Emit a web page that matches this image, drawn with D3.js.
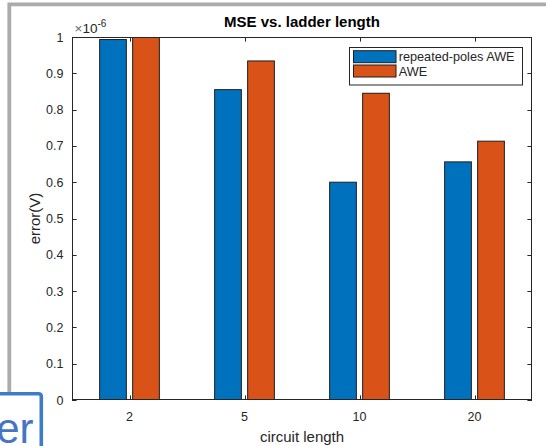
<!DOCTYPE html>
<html>
<head>
<meta charset="utf-8">
<script src="https://cdn.jsdelivr.net/npm/d3@7"></script>
<style>
  html, body { margin: 0; padding: 0; background: #fff; }
  svg { display: block; }
  text { font-family: "Liberation Sans", Arial, Helvetica, sans-serif; }
</style>
</head>
<body>
<svg id="chart" width="546" height="446"></svg>
<script>
// ---- data ----
const categories = ["2", "5", "10", "20"];
const seriesNames = ["repeated-poles AWE", "AWE"];
const repeatedPolesAWE = [0.993e-6, 0.855e-6, 0.600e-6, 0.656e-6];
const AWE = [1.0e-6, 0.934e-6, 0.845e-6, 0.713e-6];
const yTickValues = [0, 0.1, 0.2, 0.3, 0.4, 0.5, 0.6, 0.7, 0.8, 0.9, 1.0];
const yTickLabels = ["0", "0.1", "0.2", "0.3", "0.4", "0.5", "0.6", "0.7", "0.8", "0.9", "1"];
const yExponent = "-6";
const titleText = "MSE vs. ladder length";
const xLabelText = "circuit length";
const yLabelText = "error(V)";

// ---- layout ----
const W = 546, H = 446;
const plot = { left: 72, right: 532, top: 37, bottom: 400 };
const colors = ["#0072BD", "#D95319"];
const ink = "#262626";
const svg = d3.select("#chart");

// gray frame (screenshot border) at top/left
svg.append("path")
  .attr("d", "M9.3,393 L9.3,4.4 L546,4.4")
  .attr("fill", "none").attr("stroke", "#ababab").attr("stroke-width", 3.8);

const x0 = d3.scaleBand().domain(categories).range([plot.left, plot.right]).paddingInner(0).paddingOuter(0);
const bw = x0.bandwidth();
const x1 = d3.scaleBand().domain(seriesNames)
  .range([bw * 0.213, bw * 0.787]).paddingInner(0.19).paddingOuter(0.095);
const y = d3.scaleLinear().domain([0, 1e-6]).range([plot.bottom, plot.top]);
const yu = d3.scaleLinear().domain([0, 1]).range([plot.bottom, plot.top]);

const defs = svg.append("defs");
defs.append("clipPath").attr("id", "clip").append("rect")
  .attr("x", plot.left).attr("y", plot.top)
  .attr("width", plot.right - plot.left).attr("height", plot.bottom - plot.top);

// axes box background
svg.append("rect").attr("x", plot.left).attr("y", plot.top)
  .attr("width", plot.right - plot.left).attr("height", plot.bottom - plot.top)
  .attr("fill", "#fff");

// inward ticks (all four sides)
const tickLen = 4.6;
const tickG = svg.append("g").attr("stroke", ink).attr("stroke-width", 1);
categories.forEach(c => {
  const cx = Math.round(x0(c) + bw / 2) + 0.5;
  tickG.append("line").attr("x1", cx).attr("x2", cx).attr("y1", plot.bottom).attr("y2", plot.bottom - tickLen);
  tickG.append("line").attr("x1", cx).attr("x2", cx).attr("y1", plot.top).attr("y2", plot.top + tickLen);
});
yTickValues.forEach(v => {
  const yy = Math.round(yu(v)) + 0.5;
  tickG.append("line").attr("x1", plot.left).attr("x2", plot.left + tickLen).attr("y1", yy).attr("y2", yy);
  tickG.append("line").attr("x1", plot.right).attr("x2", plot.right - tickLen).attr("y1", yy).attr("y2", yy);
});

// bars
const seriesData = [repeatedPolesAWE, AWE];
const barG = svg.append("g").attr("clip-path", "url(#clip)");
categories.forEach((c, i) => {
  seriesNames.forEach((s, j) => {
    const v = seriesData[j][i];
    barG.append("rect")
      .attr("x", x0(c) + x1(s))
      .attr("width", x1.bandwidth())
      .attr("y", y(v))
      .attr("height", y(0) - y(v))
      .attr("fill", colors[j])
      .attr("stroke", "#1e1e1e").attr("stroke-width", 1);
  });
});

// axes box
svg.append("rect").attr("x", plot.left + 0.5).attr("y", plot.top + 0.5)
  .attr("width", plot.right - plot.left - 1).attr("height", plot.bottom - plot.top - 1)
  .attr("fill", "none").attr("stroke", ink).attr("stroke-width", 1);

// tick labels
const tickFont = 12.5;
categories.forEach(c => {
  svg.append("text").attr("x", x0(c) + bw / 2).attr("y", 420.5)
    .attr("text-anchor", "middle").attr("font-size", tickFont).attr("fill", ink).text(c);
});
yTickValues.forEach((v, i) => {
  svg.append("text").attr("x", 63.5).attr("y", yu(v) + 4.5)
    .attr("text-anchor", "end").attr("font-size", tickFont).attr("fill", ink).text(yTickLabels[i]);
});

// exponent
const expT = svg.append("text").attr("x", 74.5).attr("y", 32.5).attr("font-size", 13.5).attr("fill", ink);
expT.append("tspan").attr("fill", "#666").text("\u00d7");
expT.append("tspan").text("10");
expT.append("tspan").attr("dy", -6).attr("font-size", 10).text(yExponent);

// title & labels
svg.append("text").attr("x", (plot.left + plot.right) / 2).attr("y", 27.3)
  .attr("text-anchor", "middle").attr("font-size", 15).attr("font-weight", "bold").attr("fill", "#000")
  .text(titleText);
svg.append("text").attr("x", (plot.left + plot.right) / 2).attr("y", 441.5)
  .attr("text-anchor", "middle").attr("font-size", 15).attr("fill", ink).text(xLabelText);
svg.append("text").attr("transform", `translate(39.5,${(plot.top + plot.bottom) / 2}) rotate(-90)`)
  .attr("text-anchor", "middle").attr("font-size", 15).attr("fill", ink).text(yLabelText);

// legend
const lg = svg.append("g");
lg.append("rect").attr("x", 349.5).attr("y", 47.5).attr("width", 173).attr("height", 37.5)
  .attr("fill", "#fff").attr("stroke", ink).attr("stroke-width", 1);
seriesNames.forEach((s, j) => {
  const ly = 50.7 + j * 14.3;
  lg.append("rect").attr("x", 353.5).attr("y", ly).attr("width", 42.5).attr("height", 12)
    .attr("fill", colors[j]).attr("stroke", "#1e1e1e").attr("stroke-width", 1);
  lg.append("text").attr("x", 398.7).attr("y", ly + 10.5).attr("font-size", 12.7).attr("fill", ink).text(s);
});

// bottom-left overlapping box fragment
svg.append("path")
  .attr("d", "M-5,393.8 L38.5,393.8 Q41.3,393.8 41.3,396.6 L41.3,450")
  .attr("fill", "#fff").attr("stroke", "#3b7dc9").attr("stroke-width", 3.6);
svg.append("text").attr("x", 33.5).attr("y", 442.5).attr("text-anchor", "end")
  .attr("font-family", "'Open Sans', 'Liberation Sans', sans-serif")
  .attr("font-size", 42).attr("fill", "#4675c4").text("er");
</script>
</body>
</html>
